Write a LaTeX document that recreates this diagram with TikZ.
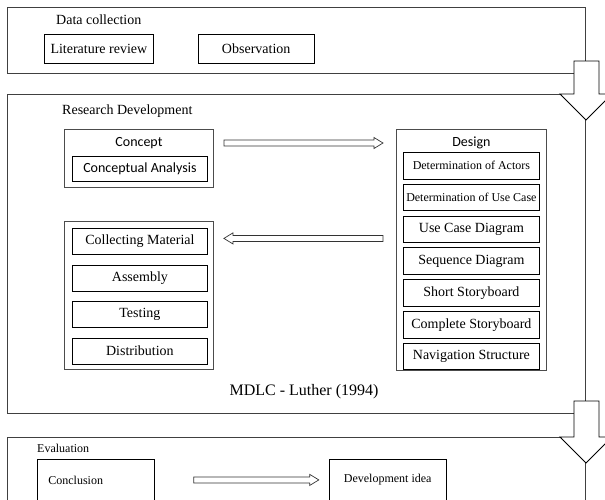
\documentclass[tikz,border=0pt]{standalone}
\usepackage{fontspec}
\setmainfont{Liberation Serif}
\newfontfamily\calibri{Carlito}
\usetikzlibrary{positioning,calc}
\tikzset{main base/.style={draw,text centered,inner sep=0pt}, }
\tikzset{stage box/.style={draw=black!75,line width=1pt,anchor=north west,inner sep=0pt,minimum width=578pt}, }
\tikzset{group box/.style={draw=black!70,line width=0.9pt,anchor=north west,inner sep=0pt,minimum width=149pt}, }
\tikzset{main item/.style={main base,line width=0.8pt,minimum width=135pt,minimum height=26pt}, }
\tikzset{small item/.style={main item,font=\fontsize{12}{14}\selectfont}, }
\tikzset{main title/.style={inner sep=0pt,anchor=west}, }
\tikzset{sans title/.style={inner sep=0pt,font=\calibri\fontsize{14}{16}\selectfont}, }
\tikzset{linea/.style 2 args={draw=black!80,line width=0.7pt,
    to path={let \p1=(\tikztostart),\p2=(\tikztotarget),\n1={sign(\x2-\x1)} in
      (\x1+\n1*#1,\y1+3pt) -- (\x2-\n1*#2-\n1*9pt,\y1+3pt) -- (\x2-\n1*#2-\n1*9pt,\y1+5.5pt)
      -- (\x2-\n1*#2,\y1) -- (\x2-\n1*#2-\n1*9pt,\y1-5.5pt) -- (\x2-\n1*#2-\n1*9pt,\y1-3pt)
      -- (\x1+\n1*#1,\y1-3pt) -- cycle}}}
\tikzset{big arrow/.style={draw=black,line width=0.9pt,fill=white,
    to path={let \p1=(\tikztostart),\p2=(\tikztotarget) in
      (\x1-12pt,\y1+13pt) -- (\x1+13pt,\y1+13pt) -- (\x1+13pt,\y2) -- (\x1+26pt,\y2)
      -- (\x2,\y2-26pt) -- (\x2-26pt,\y2) -- (\x1-12pt,\y2) -- cycle}}}

\begin{document}
\begin{tikzpicture}[x=1pt,y=-1pt,font=\fontsize{14}{16}\selectfont]
  \useasboundingbox (0,0) rectangle (605,499);
  \clip (0,0) rectangle (605,499);
  % the three stages
  \node[stage box,minimum height=66pt] (collection) at (7,7) {};
  \node[stage box,minimum height=319pt] (development) at (7,94) {};
  \node[stage box,minimum height=90pt] (evaluation) at (7,437) {};
  \node[main title] (t1) at (56,20) {Data collection};
  \node[main title] (t2) at (62,111) {Research Development};
  \node[main title,font=\fontsize{12}{14}\selectfont] (t3) at (37,448) {Evaluation};
  % data collection
  \node[main item,minimum width=109pt,minimum height=29pt,anchor=north west] (literature) at (44,34) {Literature review};
  \node[main item,minimum width=116pt,minimum height=29pt,right=44pt of literature] (observation) {Observation};
  % concept
  \node[group box,minimum height=58pt] (concept) at (64,129) {};
  \node[sans title] (concepttitle) at ([yshift=-14pt]concept.north) {Concept};
  \node[main item,font=\calibri\fontsize{14}{16}\selectfont,minimum height=25pt,anchor=north west] (analysis) at ([shift={(8pt,-27pt)}]concept.north west) {Conceptual Analysis};
  % design
  \node[group box,minimum width=150pt,minimum height=241pt] (design) at (396,129) {};
  \node[sans title] (designtitle) at ([yshift=-14pt]design.north) {Design};
  \node[small item,minimum width=136pt,minimum height=26.5pt,anchor=north west] (actors) at ([shift={(7pt,-23pt)}]design.north west) {Determination of Actors};
  \node[small item,minimum width=136pt,minimum height=26.5pt,below=4.5pt of actors] (usecase) {Determination of Use Case};
  \node[main item,minimum width=136pt,minimum height=26.5pt,below=4.5pt of usecase] (ucdiagram) {Use Case Diagram};
  \node[main item,minimum width=136pt,minimum height=26.5pt,below=4.5pt of ucdiagram] (sequence) {Sequence Diagram};
  \node[main item,minimum width=136pt,minimum height=26.5pt,below=4.5pt of sequence] (short) {Short Storyboard};
  \node[main item,minimum width=136pt,minimum height=26.5pt,below=4.5pt of short] (complete) {Complete Storyboard};
  \node[main item,minimum width=136pt,minimum height=26.5pt,below=4.5pt of complete] (navigation) {Navigation Structure};
  % material collecting, assembly, testing, distribution
  \node[group box,minimum height=148pt] (production) at (64,221) {};
  \node[main item,anchor=north west] (material) at ([shift={(8pt,-7pt)}]production.north west) {Collecting Material};
  \node[main item,below=9.7pt of material] (assembly) {Assembly};
  \node[main item,below=9.7pt of assembly] (testing) {Testing};
  \node[main item,below=9.7pt of testing] (distribution) {Distribution};
  \node[font=\fontsize{16}{18}\selectfont] (mdlc) at (304,392) {MDLC - Luther (1994)};
  % evaluation
  \node[main item,font=\fontsize{12}{14}\selectfont,minimum width=117pt,minimum height=41pt,anchor=north west,
        text width=95pt,inner xsep=11pt,align=left] (conclusion) at (37,459) {Conclusion};
  \node[main item,font=\fontsize{12}{14}\selectfont,minimum width=117pt,minimum height=41pt,right=174pt of conclusion] (idea) {Development idea};
  % arrows
  \draw[linea={10pt}{13pt}] (concepttitle -| concept.east) to (designtitle -| design.west);
  \draw[linea={13pt}{10pt}] ([yshift=3pt]material.center -| design.west) to ([yshift=3pt]material.center -| production.east);
  \draw[linea={39pt}{10pt}] (conclusion.east) to (idea.west);
  \draw[big arrow] (collection.south east) to (development.north east);
  \draw[big arrow] (development.south east) to (evaluation.north east);
\end{tikzpicture}
\end{document}
